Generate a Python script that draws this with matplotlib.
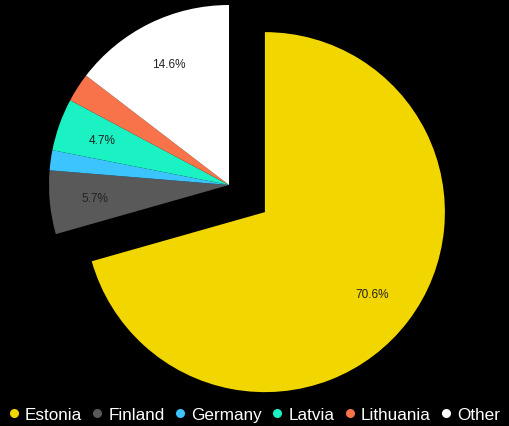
import matplotlib.pyplot as plt
from matplotlib.lines import Line2D

# data
countries = ['Estonia', 'Finland', 'Germany', 'Latvia', 'Lithuania', 'Other']
shares = [70.6, 5.7, 1.8, 4.7, 2.6, 14.6]
colors = ['#f2d600', '#595959', '#3cc4ff', '#1af2c3', '#f9734a', '#ffffff']
explode = [0.25, 0, 0, 0, 0, 0]

plt.rcParams['font.family'] = ['Liberation Sans', 'DejaVu Sans']

fig = plt.figure(figsize=(5.09, 4.27), dpi=100, facecolor='black')
ax = fig.add_axes([0, 0, 1, 1])
ax.set_facecolor('black')


def fmt(p):
    return '%.1f%%' % p if p > 4 else ''


wedges, texts, autotexts = ax.pie(shares, colors=colors, explode=explode,
                                  startangle=90, counterclock=False,
                                  autopct=fmt, pctdistance=0.75,
                                  textprops={'fontsize': 8.5, 'color': '#222222'})

# pie centre at (229, 186) px, radius 180 px
ax.set_xlim(-229 / 180, (509 - 229) / 180)
ax.set_ylim((186 - 427) / 180, 186 / 180)
ax.set_aspect('equal')
ax.axis('off')

handles = [Line2D([], [], marker='o', linestyle='', markersize=5.5,
                  markerfacecolor=c, markeredgecolor=c) for c in colors]
fig.legend(handles, countries, loc='center', bbox_to_anchor=(0.5, 0.028),
           ncol=6, frameon=False, fontsize=12.3, labelcolor='white',
           handletextpad=0.35, columnspacing=0.6, handlelength=0.6,
           borderpad=0, borderaxespad=0)

fig.savefig('out.png', dpi=100, facecolor='black')
